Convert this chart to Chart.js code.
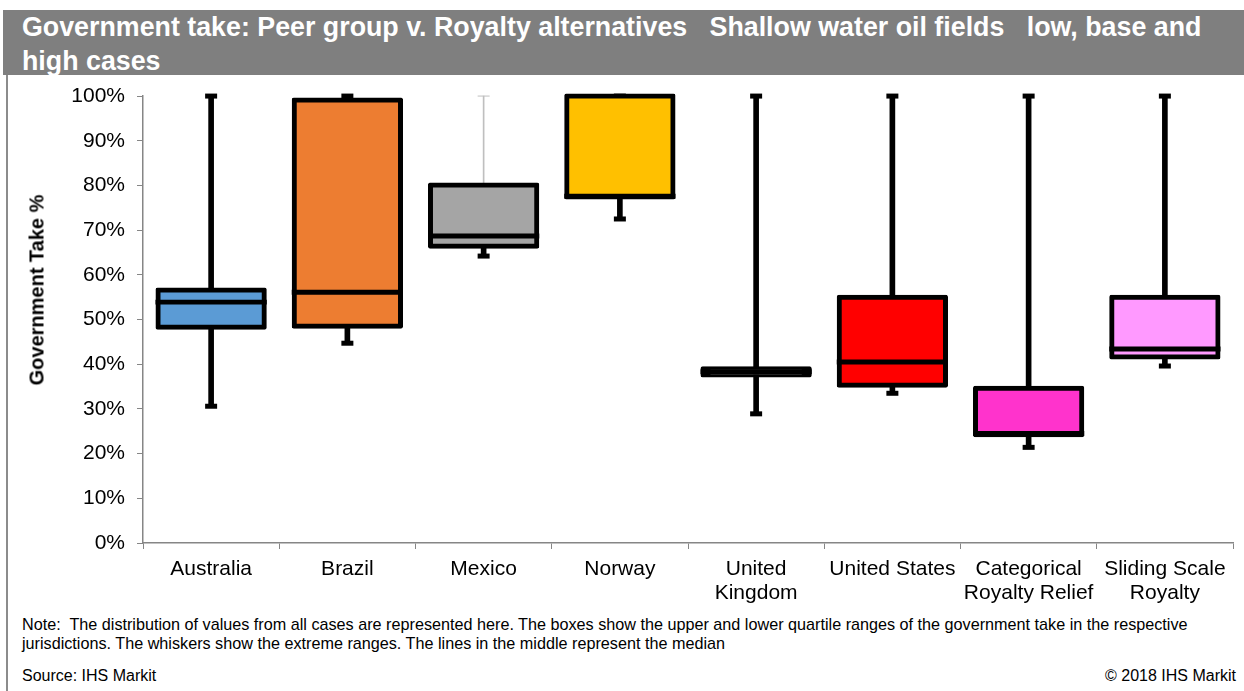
<!DOCTYPE html>
<html>
<head>
<meta charset="utf-8">
<script src="https://cdn.jsdelivr.net/npm/chart.js@4.4.1/dist/chart.umd.min.js"></script>
<style>
	body {
		margin: 0;
		background: #ffffff;
		font-family: "Liberation Sans", Arial, sans-serif;
		width: 1244px;
		height: 691px;
		overflow: hidden;
		position: relative;
	}

	#header {
		position: absolute;
		left: 3px;
		top: 10px;
		width: 1241px;
		height: 65px;
		background: #7f7f7f;
		color: #ffffff;
		font-weight: bold;
		font-size: 26.8px;
		line-height: 34px;
		box-sizing: border-box;
		padding: 0 0 0 19px;
	}

	#frame {
		position: absolute;
		left: 6px;
		top: 75px;
		width: 2px;
		height: 616px;
		background: #8c8c8c;
	}

	#chartBox {
		position: absolute;
		left: 8px;
		top: 72px;
		width: 1236px;
		height: 538px;
	}

	#yTitle {
		position: absolute;
		left: 37px;
		top: 290px;
		transform: translate(-50%, -50%) rotate(-90deg);
		font-size: 20px;
		font-weight: bold;
		white-space: nowrap;
		color: #000000;
	}

	#note {
		position: absolute;
		left: 22px;
		top: 615px;
		font-size: 16.2px;
		line-height: 19px;
		color: #000000;
	}

	.foot {
		position: absolute;
		top: 667px;
		font-size: 16px;
		color: #000000;
	}
</style>
</head>
<body>

<div id="header">Government take: Peer group v. Royalty alternatives&nbsp;&nbsp; Shallow water oil fields&nbsp;&nbsp; low, base and<br>high cases</div>
<div id="frame"></div>

<div id="chartBox">
	<canvas id="myChart"></canvas>
</div>
<div id="yTitle">Government Take %</div>

<div id="note">Note:&nbsp; The distribution of values from all cases are represented here. The boxes show the upper and lower quartile ranges of the government take in the respective<br>jurisdictions. The whiskers show the extreme ranges. The lines in the middle represent the median</div>
<div class="foot" style="left:22px">Source: IHS Markit</div>
<div class="foot" style="right:8px">© 2018 IHS Markit</div>

<script>
	// government take, %
	const labels = ['Australia', 'Brazil', 'Mexico', 'Norway', ['United', 'Kingdom'], 'United States', ['Categorical', 'Royalty Relief'], ['Sliding Scale', 'Royalty']];
	const minVals = [30.6, 44.7, 64.2, 72.5, 28.9, 33.5, 21.4, 39.6];
	const q1Vals = [48.3, 48.5, 66.4, 77.4, 37.6, 35.3, 24.2, 41.6];
	const medianVals = [53.9, 56.1, 68.7, 77.6, 38.3, 40.5, 24.5, 43.4];
	const q3Vals = [56.6, 99.1, 80.1, 100, 39.0, 55.0, 34.6, 55.0];
	const maxVals = [100, 100, 100, 100, 100, 100, 100, 100];
	const yTicks = [0, 10, 20, 30, 40, 50, 60, 70, 80, 90, 100];

	const boxColors = ['#5b9bd5', '#ed7d31', '#a5a5a5', '#ffc000', '#000000', '#ff0000', '#ff33cc', '#ff99ff'];
	const thinUpper = [2]; // Mexico: light upper whisker

	const upperThick = maxVals.map((v, i) => thinUpper.includes(i) ? null : [q3Vals[i], v]);
	const upperThin = maxVals.map((v, i) => thinUpper.includes(i) ? [q3Vals[i], v] : null);
	const lower = minVals.map((v, i) => [v, q1Vals[i]]);
	const boxes = q1Vals.map((v, i) => [v, q3Vals[i]]);
	const medians = medianVals.map(v => [v - 0.55, v + 0.55]);

	const axisGray = '#868686';
	const font = { family: '"Liberation Sans", Arial, sans-serif', size: 21, lineHeight: 1.15 };

	const data = {
		labels: labels,
		datasets: [
			{ type: 'bar', data: upperThick, backgroundColor: '#000000', barThickness: 5, grouped: false, order: 6, clip: false },
			{ type: 'bar', data: upperThin, backgroundColor: '#bfbfbf', barThickness: 1, grouped: false, order: 6, clip: false },
			{ type: 'bar', data: lower, backgroundColor: '#000000', barThickness: 5, grouped: false, order: 6, clip: false },
			{
				type: 'line', data: maxVals, showLine: false, pointStyle: 'line', pointRadius: 6,
				pointBorderColor: maxVals.map((v, i) => thinUpper.includes(i) ? '#bfbfbf' : '#000000'),
				pointBorderWidth: maxVals.map((v, i) => thinUpper.includes(i) ? 1 : 5),
				order: 5, clip: false
			},
			{
				type: 'line', data: minVals, showLine: false, pointStyle: 'line', pointRadius: 6,
				pointBorderColor: '#000000', pointBorderWidth: 5, order: 5, clip: false
			},
			{
				// border centred on the quartile edges, like the original
				type: 'bar', data: boxes, backgroundColor: boxColors, borderColor: '#000000', borderWidth: 5,
				borderRadius: 2, borderSkipped: false, inflateAmount: 2.5, barPercentage: 0.78, categoryPercentage: 1,
				grouped: false, order: 3, clip: false
			},
			{
				type: 'bar', data: medians, backgroundColor: '#000000', inflateAmount: 0, barPercentage: 0.8165, categoryPercentage: 1,
				grouped: false, order: 2, clip: false
			}
		]
	};

	const config = {
		type: 'bar',
		data: data,
		options: {
			responsive: true,
			maintainAspectRatio: false,
			animation: false,
			events: [],
			layout: { padding: { top: 16, right: 5, left: 0, bottom: 0 } },
			plugins: { legend: { display: false }, tooltip: { enabled: false } },
			scales: {
				x: {
					grid: { drawOnChartArea: false, color: axisGray, tickLength: 6, offset: true },
					border: { color: axisGray, width: 1.5 },
					ticks: { color: '#000000', font: font, autoSkip: false, maxRotation: 0, padding: 8 },
					afterFit: (axis) => { axis.height = 67; }
				},
				y: {
					min: 0,
					max: 100,
					afterBuildTicks: (axis) => { axis.ticks = yTicks.map(v => ({ value: v })); },
					grid: { drawOnChartArea: false, color: axisGray, tickLength: 6 },
					border: { color: axisGray, width: 1.5 },
					ticks: { color: '#000000', font: font, padding: 12, callback: (v) => v + '%' },
					afterFit: (axis) => { axis.width = 135; }
				}
			}
		}
	};

	const myChart = new Chart(document.getElementById('myChart'), config);
</script>
</body>
</html>
